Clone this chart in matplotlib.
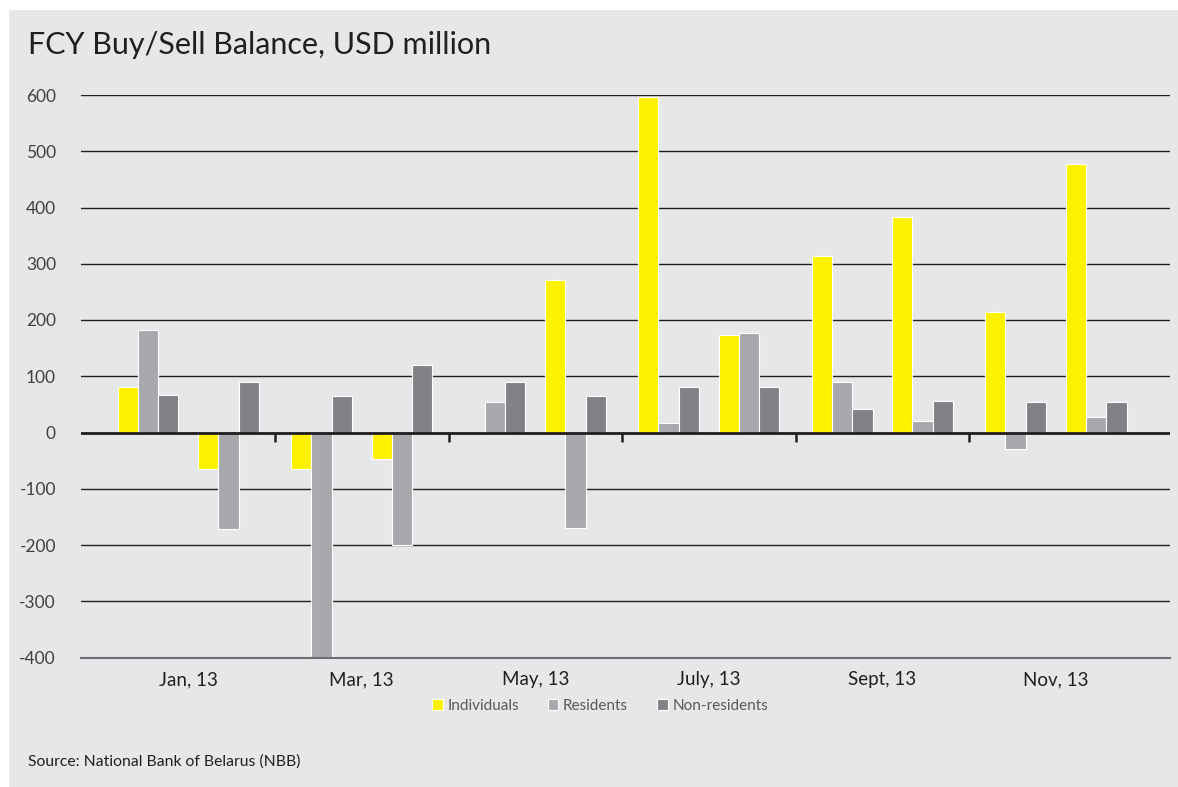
import numpy as np
import matplotlib
matplotlib.use("Agg")
import matplotlib.pyplot as plt
from matplotlib.patches import Rectangle, Patch

# Monthly FCY buy/sell balance, USD million (2013)
months = ["Jan", "Feb", "Mar", "Apr", "May", "Jun",
          "Jul", "Aug", "Sep", "Oct", "Nov", "Dec"]
tick_labels = ["Jan, 13", "Mar, 13", "May, 13", "July, 13", "Sept, 13", "Nov, 13"]
series_names = ["Individuals", "Residents", "Non-residents"]
individuals = [81, -64, -64, -47, 0, 271, 597, 174, 314, 384, 215, 478]
residents = [183, -172, -400, -200, 55, -170, 17, 177, 89, 20, -30, 27]
non_residents = [66, 90, 65, 120, 90, 65, 81, 81, 41, 56, 55, 55]

colors = ["#fff200", "#a7a9ac", "#808285"]
bg = "#e6e7e8"
ink = "#231f20"

plt.rcParams["font.family"] = ["Lato", "DejaVu Sans"]

fig = plt.figure(figsize=(11.78, 7.87), dpi=100)
fig.patch.set_facecolor("white")
fig.patches.append(Rectangle((9 / 1178, 0), 1 - 9 / 1178, 1 - 10 / 787,
                             transform=fig.transFigure, facecolor=bg,
                             edgecolor="none", zorder=-5))

ax = fig.add_axes([81 / 1178, 129.5 / 787, (1170 - 81) / 1178, (657.5 - 95) / 787])
ax.set_zorder(2)
ax.set_facecolor(bg)

# Months are grouped in pairs; each pair shares one labelled slot
m = np.arange(len(months))
pair = m // 2
side = np.where(m % 2 == 0, -1.0, 1.0)
centers = pair + side * 0.232
w = 0.117

for k, vals in enumerate([individuals, residents, non_residents]):
    ax.bar(centers + (k - 1) * w, vals, width=w, color=colors[k],
           edgecolor="white", linewidth=0.8, zorder=2, label=series_names[k])

ax.set_ylim(-400, 600)
ax.set_xlim(-0.618, 5.658)
ax.set_yticks(np.arange(-400, 601, 100))
ax.set_yticklabels([str(v) for v in range(-400, 601, 100)])
ax.grid(axis="y", color=ink, linewidth=1.0, zorder=1)
ax.set_axisbelow(True)

ax.axhline(0, color=ink, linewidth=2.0, zorder=3)
boundaries = np.arange(5) + 0.5
ax.vlines(boundaries, -16, 0, color=ink, linewidth=1.8, zorder=3)

for s in ["top", "right", "left"]:
    ax.spines[s].set_visible(False)
ax.spines["bottom"].set_color("#6d6e71")
ax.spines["bottom"].set_linewidth(1.5)

ax.set_xticks(np.arange(6))
ax.set_xticklabels(tick_labels)
ax.tick_params(axis="x", length=0, pad=10, labelsize=13.5, labelcolor=ink)
ax.tick_params(axis="y", length=0, pad=18, labelsize=12.5, labelcolor="#414042")

fig.text(28 / 1178, 1 - 45 / 787, "FCY Buy/Sell Balance, USD million",
         fontsize=22, color=ink, va="center", ha="left")
fig.text(28 / 1178, 1 - 762 / 787, "Source: National Bank of Belarus (NBB)",
         fontsize=11.3, color=ink, va="center", ha="left")

handles = [Patch(facecolor=c, edgecolor="white", linewidth=0.8) for c in colors]
fig.legend(handles, series_names, loc="center", ncol=3,
           bbox_to_anchor=(600 / 1178, 1 - 706 / 787), frameon=False,
           handlelength=0.7, handleheight=0.7, handletextpad=0.3,
           columnspacing=1.9, fontsize=11, labelcolor="#58595b")

fig.savefig("out.png", dpi=100, facecolor=fig.get_facecolor())
